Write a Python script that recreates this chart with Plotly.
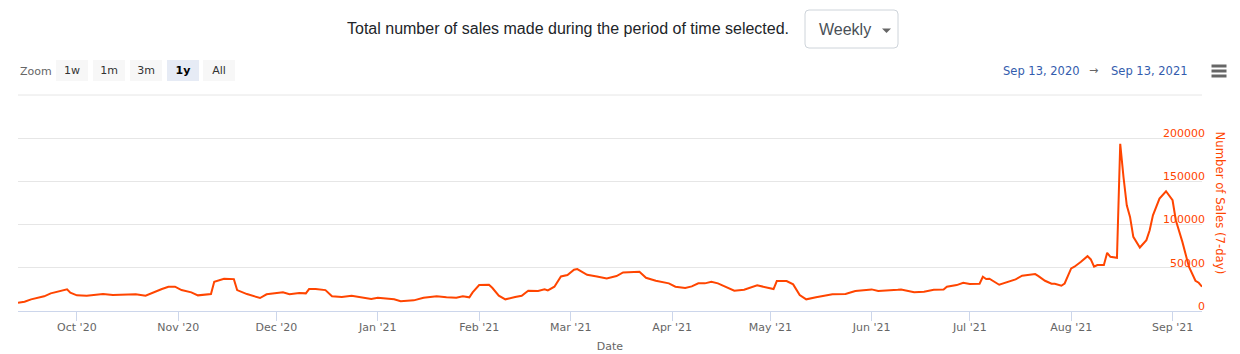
import plotly.graph_objects as go

# ---------------- data ----------------
dates = [
    "2020-09-13", "2020-09-15", "2020-09-17", "2020-09-19", "2020-09-21",
    "2020-09-23", "2020-09-26", "2020-09-28", "2020-09-29", "2020-10-01",
    "2020-10-04", "2020-10-07", "2020-10-09", "2020-10-12", "2020-10-16",
    "2020-10-19", "2020-10-22", "2020-10-24", "2020-10-27", "2020-10-29",
    "2020-10-31", "2020-11-02", "2020-11-05", "2020-11-07", "2020-11-11",
    "2020-11-12", "2020-11-15", "2020-11-18", "2020-11-19", "2020-11-22",
    "2020-11-26", "2020-11-28", "2020-12-01", "2020-12-03", "2020-12-05",
    "2020-12-08", "2020-12-10", "2020-12-11", "2020-12-13", "2020-12-16",
    "2020-12-18", "2020-12-21", "2020-12-24", "2020-12-27", "2020-12-30",
    "2021-01-01", "2021-01-06", "2021-01-08", "2021-01-12", "2021-01-15",
    "2021-01-19", "2021-01-22", "2021-01-25", "2021-01-27", "2021-01-29",
    "2021-01-30", "2021-02-01", "2021-02-04", "2021-02-05", "2021-02-07",
    "2021-02-09", "2021-02-12", "2021-02-14", "2021-02-16", "2021-02-19",
    "2021-02-21", "2021-02-22", "2021-02-24", "2021-02-26", "2021-02-28",
    "2021-03-02", "2021-03-03", "2021-03-06", "2021-03-09", "2021-03-12",
    "2021-03-15", "2021-03-17", "2021-03-22", "2021-03-24", "2021-03-27",
    "2021-03-31", "2021-04-02", "2021-04-05", "2021-04-07", "2021-04-09",
    "2021-04-11", "2021-04-13", "2021-04-15", "2021-04-18", "2021-04-20",
    "2021-04-23", "2021-04-27", "2021-05-02", "2021-05-03", "2021-05-06",
    "2021-05-08", "2021-05-10", "2021-05-12", "2021-05-15", "2021-05-17",
    "2021-05-20", "2021-05-24", "2021-05-27", "2021-06-01", "2021-06-03",
    "2021-06-09", "2021-06-10", "2021-06-14", "2021-06-17", "2021-06-20",
    "2021-06-23", "2021-06-24", "2021-06-27", "2021-06-29", "2021-07-01",
    "2021-07-04", "2021-07-05", "2021-07-06", "2021-07-07", "2021-07-10",
    "2021-07-12", "2021-07-14", "2021-07-15", "2021-07-17", "2021-07-19",
    "2021-07-21", "2021-07-22", "2021-07-24", "2021-07-26", "2021-07-27",
    "2021-07-29", "2021-07-30", "2021-08-01", "2021-08-02", "2021-08-04",
    "2021-08-06", "2021-08-07", "2021-08-08", "2021-08-09", "2021-08-11",
    "2021-08-12", "2021-08-13", "2021-08-15", "2021-08-16", "2021-08-17",
    "2021-08-18", "2021-08-19", "2021-08-20", "2021-08-22", "2021-08-24",
    "2021-08-25", "2021-08-26", "2021-08-28", "2021-08-29", "2021-08-30",
    "2021-09-01", "2021-09-02", "2021-09-04", "2021-09-06", "2021-09-08",
    "2021-09-09", "2021-09-10",
]

sales_7day = [
    9600, 10700, 13500, 15400, 17000,
    20400, 23100, 25000, 21100, 18100,
    17700, 19300, 19600, 18500, 19300,
    19300, 17700, 21100, 25400, 28100,
    28100, 24200, 21600, 18100, 19600,
    33900, 37300, 36900, 24200, 19600,
    15000, 19300, 20400, 21600, 19300,
    20800, 20400, 25400, 25400, 24200,
    17000, 16200, 17700, 15800, 13900,
    15400, 13500, 11200, 12300, 15400,
    17000, 15800, 15400, 17000, 15800,
    21600, 30000, 30400, 26900, 17700,
    13500, 16200, 17700, 23400, 23100,
    25000, 23800, 28100, 40000, 41600,
    47700, 48500, 41900, 40000, 37700,
    40400, 44700, 45400, 38500, 35000,
    32000, 28100, 26600, 28500, 32000,
    32000, 33900, 32000, 26900, 23400,
    24600, 29700, 25400, 34600, 34600,
    30800, 18500, 13500, 15800, 17000,
    19300, 19600, 23100, 25000, 23100,
    24600, 25000, 21600, 22300, 24600,
    25000, 28100, 30000, 32700, 31200,
    31500, 39600, 37000, 37300, 30400,
    32700, 35800, 36600, 40800, 41900,
    42700, 40400, 35000, 31500, 31500,
    29200, 31800, 49300, 51200, 56900,
    63500, 59700, 51200, 53100, 53100,
    67300, 62700, 61500, 193600, 155000,
    122400, 108900, 85800, 73500, 82000,
    93500, 110800, 130100, 134000, 138600,
    128200, 105100, 80000, 51200, 35000,
    32700, 28100,
]

y_tick_values = [0, 50000, 100000, 150000, 200000]
y_tick_labels = ["0", "50000", "100000", "150000", "200000"]

x_range = ["2020-09-13", "2021-09-10"]
y_range = [0, 250000]

zoom_buttons = ["1w", "1m", "3m", "1y", "All"]
selected_button = "1y"
range_from = "Sep 13, 2020"
range_to = "Sep 13, 2021"
header_text = "Total number of sales made during the period of time selected."
period_choice = "Weekly"

# ---------------- layout helpers (pixel -> paper) ----------------
PL, PR, T, B = 18, 1240, 95, 311     # paper area in pixels
XR = 1202                             # right end of the x axis
PW, H = PR - PL, B - T


def px(x):
    return (x - PL) / PW


def py(y):
    return (B - y) / H


LINE_COLOR = "#ff4500"
CHART_FONT = "DejaVu Sans"
HEAD_FONT = "Liberation Sans"

fig = go.Figure()
fig.add_trace(go.Scatter(
    x=dates, y=sales_7day, mode="lines",
    line=dict(color=LINE_COLOR, width=2),
    name="Number of Sales (7-day)", showlegend=False,
))

fig.update_layout(
    width=1240, height=354,
    margin=dict(l=PL, r=1240 - PR, t=T, b=354 - B, pad=0),
    paper_bgcolor="white", plot_bgcolor="white",
    font=dict(family=CHART_FONT, size=11, color="#666666"),
    showlegend=False,
)

fig.update_xaxes(
    type="date", range=x_range, dtick="M1", tickformat="%b '%y",
    domain=[0, px(XR)], automargin=False,
    ticks="outside", ticklen=9, tickcolor="#ccd6eb", tickwidth=1,
    ticklabelstandoff=-3,
    showline=True, linecolor="#ccd6eb", linewidth=1,
    showgrid=False, zeroline=False,
    tickfont=dict(family=CHART_FONT, size=11, color="#666666"),
    title=dict(text="Date", font=dict(family=CHART_FONT, size=11, color="#666666"), standoff=9),
)

fig.update_yaxes(
    range=y_range, side="left", anchor="free", position=px(XR + 3),
    automargin=False,
    tickmode="array", tickvals=y_tick_values, ticktext=y_tick_labels,
    showgrid=True, gridcolor="#e6e6e6", gridwidth=1,
    zeroline=False, showline=False, ticks="",
    ticklabelshift=-5,
    tickfont=dict(family=CHART_FONT, size=11, color=LINE_COLOR),
)

annotations = []
shapes = []

# top grid line (250000) at the upper edge of the plot
shapes.append(dict(
    type="line", xref="paper", yref="paper",
    x0=0, x1=px(XR), y0=1, y1=1,
    line=dict(color="#e6e6e6", width=1), layer="below",
))

# y-axis title (reads top to bottom)
annotations.append(dict(
    x=px(1220), y=py(202.5), xref="paper", yref="paper",
    text="Number of Sales (7-day)", textangle=90, showarrow=False,
    font=dict(family=CHART_FONT, size=11.7, color=LINE_COLOR),
    xanchor="center", yanchor="middle",
))

# header text
annotations.append(dict(
    x=px(568), y=py(28), xref="paper", yref="paper",
    text=header_text, showarrow=False,
    font=dict(family=HEAD_FONT, size=16, color="#212529"),
    xanchor="center", yanchor="middle",
))

# dropdown box
x0, x1, y0, y1 = px(805), px(898), py(48), py(10)
rx, ry = 4 / PW, 4 / H
shapes.append(dict(
    type="path", xref="paper", yref="paper",
    path=(f"M {x0+rx} {y0} L {x1-rx} {y0} Q {x1} {y0} {x1} {y0+ry} "
          f"L {x1} {y1-ry} Q {x1} {y1} {x1-rx} {y1} L {x0+rx} {y1} "
          f"Q {x0} {y1} {x0} {y1-ry} L {x0} {y0+ry} Q {x0} {y0} {x0+rx} {y0} Z"),
    line=dict(color="#ced4da", width=1), fillcolor="white", layer="above",
))
annotations.append(dict(
    x=px(817), y=py(29), xref="paper", yref="paper",
    text=period_choice, showarrow=False,
    font=dict(family=HEAD_FONT, size=16, color="#495057"),
    xanchor="left", yanchor="middle",
))
shapes.append(dict(
    type="path", xref="paper", yref="paper",
    path=f"M {px(882)} {py(28.5)} L {px(891)} {py(28.5)} L {px(886.5)} {py(33)} Z",
    line=dict(width=0), fillcolor="#666666", layer="above",
))

# zoom label + buttons
annotations.append(dict(
    x=px(18), y=py(71.5), xref="paper", yref="paper",
    text="Zoom", showarrow=False,
    font=dict(family=CHART_FONT, size=11, color="#666666"),
    xanchor="left", yanchor="middle",
))
btn_centers = [72, 109, 146, 183, 219.5]
for lab, cx in zip(zoom_buttons, btn_centers):
    sel = lab == selected_button
    annotations.append(dict(
        x=px(cx), y=py(71), xref="paper", yref="paper",
        text=f"<b>{lab}</b>" if sel else lab, showarrow=False,
        width=32, height=21, borderpad=0, borderwidth=0,
        bgcolor="#e6ebf5" if sel else "#f7f7f7",
        font=dict(family=CHART_FONT, size=11, color="#000000" if sel else "#333333"),
        xanchor="center", yanchor="middle", align="center", valign="middle",
    ))

# range display
annotations.append(dict(
    x=px(1001), y=py(71), xref="paper", yref="paper",
    text=range_from, showarrow=False,
    font=dict(family=CHART_FONT, size=11.5, color="#335cad"),
    xanchor="left", yanchor="middle",
))
annotations.append(dict(
    x=px(1093), y=py(71), xref="paper", yref="paper",
    text="→", showarrow=False,
    font=dict(family=CHART_FONT, size=11, color="#666666"),
    xanchor="center", yanchor="middle",
))
annotations.append(dict(
    x=px(1108.5), y=py(71), xref="paper", yref="paper",
    text=range_to, showarrow=False,
    font=dict(family=CHART_FONT, size=11.5, color="#335cad"),
    xanchor="left", yanchor="middle",
))

# hamburger menu icon
for yy in (66, 71, 76):
    shapes.append(dict(
        type="line", xref="paper", yref="paper",
        x0=px(1211.5), x1=px(1226.5), y0=py(yy), y1=py(yy),
        line=dict(color="#666666", width=3),
    ))

fig.update_layout(annotations=annotations, shapes=shapes)

fig.write_html("out.html")
